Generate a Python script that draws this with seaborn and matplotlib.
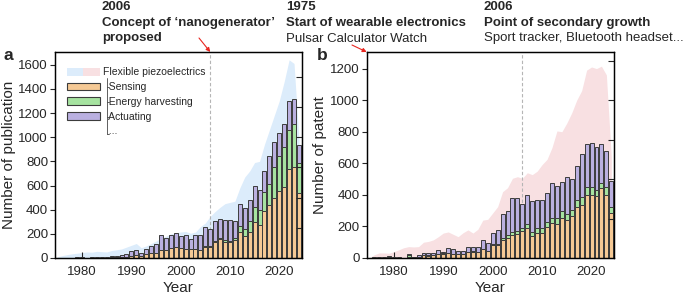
import numpy as np
import pandas as pd
import matplotlib
matplotlib.use("Agg")
import matplotlib.pyplot as plt
import seaborn as sns
from matplotlib.patches import Patch
from matplotlib.lines import Line2D
from matplotlib.legend_handler import HandlerTuple

# data
years = list(range(1975, 2025))

# panel a: publications
pub_sensing = [0, 0, 1, 0, 1, 2, 1, 1, 2, 1,
               3, 5, 8, 6, 10, 20, 28, 20, 35, 40,
               45, 70, 65, 80, 88, 80, 77, 72, 72, 66,
               94, 94, 135, 158, 135, 130, 150, 216, 185, 216,
               301, 274, 392, 440, 500, 556, 586, 740, 757, 542]
pub_energy = [0, 0, 0, 0, 0, 0, 0, 0, 0, 0,
              0, 0, 0, 0, 0, 0, 0, 0, 0, 0,
              0, 0, 0, 0, 0, 0, 0, 0, 0, 0,
              3, 3, 5, 5, 10, 8, 12, 46, 55, 88,
              122, 121, 155, 176, 250, 286, 331, 320, 348, 241]
pub_actuating = [3, 2, 3, 3, 4, 4, 3, 5, 5, 4,
                 9, 9, 10, 16, 20, 35, 35, 20, 42, 57,
                 71, 118, 103, 113, 119, 98, 116, 88, 116, 127,
                 160, 146, 164, 157, 167, 174, 143, 188, 174, 176,
                 175, 167, 173, 226, 210, 193, 193, 238, 211, 150]
pub_flexible = [10, 20, 28, 35, 40, 45, 50, 48, 55, 52,
                50, 62, 68, 75, 90, 105, 120, 85, 100, 120,
                140, 165, 180, 200, 210, 215, 220, 205, 215, 260,
                290, 345, 385, 420, 450, 460, 470, 580, 670, 720,
                790, 800, 940, 1060, 1180, 1300, 1460, 1640, 1610, 980]

# panel b: patents
pat_sensing = [0, 2, 3, 2, 4, 3, 2, 1, 5, 3,
               6, 20, 15, 18, 25, 28, 30, 25, 25, 25,
               38, 40, 35, 55, 45, 83, 83, 114, 129, 146,
               150, 174, 189, 140, 161, 161, 199, 220, 214, 256,
               242, 269, 322, 337, 401, 401, 390, 443, 401, 284]
pat_energy = [0, 0, 0, 0, 0, 0, 0, 0, 12, 2,
              2, 2, 2, 2, 2, 2, 2, 2, 2, 2,
              2, 2, 2, 2, 2, 4, 6, 11, 17, 21,
              22, 15, 27, 27, 28, 28, 26, 36, 38, 39,
              36, 36, 47, 47, 46, 48, 42, 32, 48, 42]
pat_actuating = [2, 3, 5, 4, 6, 5, 3, 2, 8, 3,
                 9, 10, 13, 10, 24, 10, 29, 28, 20, 20,
                 32, 30, 35, 57, 46, 70, 89, 153, 149, 212,
                 207, 154, 185, 191, 176, 176, 186, 219, 206, 184,
                 235, 197, 216, 275, 276, 280, 270, 248, 227, 162]
pat_flexible = [0, 20, 32, 32, 30, 40, 52, 65, 72, 70,
                72, 100, 105, 115, 135, 158, 165, 150, 135, 160,
                178, 158, 182, 240, 245, 285, 325, 420, 445, 505,
                515, 505, 540, 528, 550, 592, 625, 700, 805, 800,
                855, 920, 1000, 1060, 1190, 1210, 1200, 1215, 1160, 640]

c_sens = "#f5c995"
c_energy = "#a6e3a0"
c_act = "#bab0e0"
c_blue = "#dcecfb"
c_pink = "#f8e0e2"
c_edge = "#3c3c3c"

sns.set_style("ticks")
plt.rcParams['font.family'] = ['Liberation Sans', 'DejaVu Sans']
plt.rcParams['axes.linewidth'] = 0.9

fig = plt.figure(figsize=(6.85, 3.0), dpi=100)
ax_a = fig.add_axes([0.0803, 0.14, 0.3601, 0.6867])
ax_b = fig.add_axes([0.5353, 0.14, 0.3611, 0.6867])


def draw_panel(ax, sens, energy, act, area, area_color, ymax, ylabel):
    df = pd.DataFrame({"year": years, "sensing": sens, "energy": energy,
                       "actuating": act, "area": area})
    df["sens_energy"] = df["sensing"] + df["energy"]
    df["total"] = df["sens_energy"] + df["actuating"]

    ax.fill_between(df["year"], 0, df["area"], color=area_color, lw=0, zorder=0)
    ax.axvline(2006, color="#b5b5b5", ls=(0, (3, 2)), lw=0.8, zorder=0.5)
    # stacked bars: draw the totals first, then overlay the lower parts
    for col, c in [("total", c_act), ("sens_energy", c_energy), ("sensing", c_sens)]:
        sns.barplot(data=df, x="year", y=col, native_scale=True, width=0.8,
                    color=c, saturation=1, edgecolor=c_edge, linewidth=0.7,
                    errorbar=None, ax=ax)

    ax.set_xlim(1974.5, 2024.55)
    ax.set_ylim(0, ymax)
    ax.set_xticks([1980, 1990, 2000, 2010, 2020])
    ax.set_yticks(np.arange(0, ymax, 200))
    ax.tick_params(axis="x", direction="in", length=4, width=0.8, pad=6, labelsize=9.5)
    ax.tick_params(axis="y", direction="out", length=3.5, width=0.8, pad=1.5, labelsize=9.5)
    ax.set_xlabel("Year", fontsize=11, labelpad=2)
    ax.set_ylabel(ylabel, fontsize=11, labelpad=2)
    for s in ax.spines.values():
        s.set_color("black")

    tw = ax.twinx()
    tw.set_ylim(0, ymax)
    tw.set_yticks(np.arange(250, ymax, 250))
    tw.tick_params(axis="y", direction="in", length=4, width=0.8, labelright=False)
    for s in tw.spines.values():
        s.set_color("black")
    return tw


draw_panel(ax_a, pub_sensing, pub_energy, pub_actuating, pub_flexible, c_blue, 1705,
           "Number of publication")
draw_panel(ax_b, pat_sensing, pat_energy, pat_actuating, pat_flexible, c_pink, 1305,
           "Number of patent")

# legend
handles = [(Patch(color=c_blue, lw=0), Patch(color=c_pink, lw=0)),
           Patch(facecolor=c_sens, edgecolor=c_edge, lw=0.8),
           Patch(facecolor=c_energy, edgecolor=c_edge, lw=0.8),
           Patch(facecolor=c_act, edgecolor=c_edge, lw=0.8),
           Patch(facecolor="none", edgecolor="none")]
labels = ["Flexible piezoelectrics", "  Sensing", "  Energy harvesting", "  Actuating", "  ..."]
leg = ax_a.legend(handles, labels, loc="upper left", bbox_to_anchor=(0.05, 0.925),
                  frameon=False, fontsize=7.5, handlelength=3.1, handleheight=0.75,
                  handletextpad=0.35, labelspacing=0.45, borderpad=0, borderaxespad=0,
                  handler_map={tuple: HandlerTuple(ndivide=None, pad=0)})

# bracket joining the sub-categories
fig.canvas.draw()
r = fig.canvas.get_renderer()
bbs = [t.get_window_extent(r) for t in leg.get_texts()]
inv = fig.transFigure.inverted()
vx = bbs[0].x0 + 3.5
y_top = bbs[0].y0 - 1
y_rows = [(b.y0 + b.y1) / 2 for b in bbs[1:4]] + [bbs[4].y0 + 2]


def fig_line(x0, y0, x1, y1):
    p0 = inv.transform((x0, y0))
    p1 = inv.transform((x1, y1))
    fig.add_artist(Line2D([p0[0], p1[0]], [p0[1], p1[1]], color="#444444", lw=0.6))


fig_line(vx, y_top, vx, y_rows[-1])
for yy in y_rows:
    fig_line(vx, yy, vx + 2.5, yy)

# headings
def heading(x, lines):
    base = [10, 26, 41.5]
    for (txt, bold), b in zip(lines, base):
        fig.text(x / 685, 1 - b / 300, txt, fontsize=9.5,
                 fontweight="bold" if bold else "normal", va="baseline", ha="left")


heading(102, [("2006", True), ("Concept of \u2018nanogenerator\u2019", True), ("proposed", True)])
heading(286, [("1975", True), ("Start of wearable electronics", True), ("Pulsar Calculator Watch", False)])
heading(484, [("2006", True), ("Point of secondary growth", True),
              ("Sport tracker, Bluetooth headset...", False)])

fig.text(3 / 685, 1 - 60 / 300, "a", fontsize=12.5, fontweight="bold", va="baseline")
fig.text(317 / 685, 1 - 60 / 300, "b", fontsize=12.5, fontweight="bold", va="baseline")

arrow = dict(arrowstyle="-|>", color="#e8251f", lw=0.8, mutation_scale=6, shrinkA=0, shrinkB=0)
ax_a.annotate("", xy=(2006, 1705), xycoords="data", xytext=(199 / 685, 1 - 38 / 300),
              textcoords="figure fraction", arrowprops=arrow, annotation_clip=False)
ax_b.annotate("", xy=(0, 1), xycoords="axes fraction", xytext=(352 / 685, 1 - 45 / 300),
              textcoords="figure fraction", arrowprops=arrow, annotation_clip=False)

fig.savefig("out.png", dpi=100)
